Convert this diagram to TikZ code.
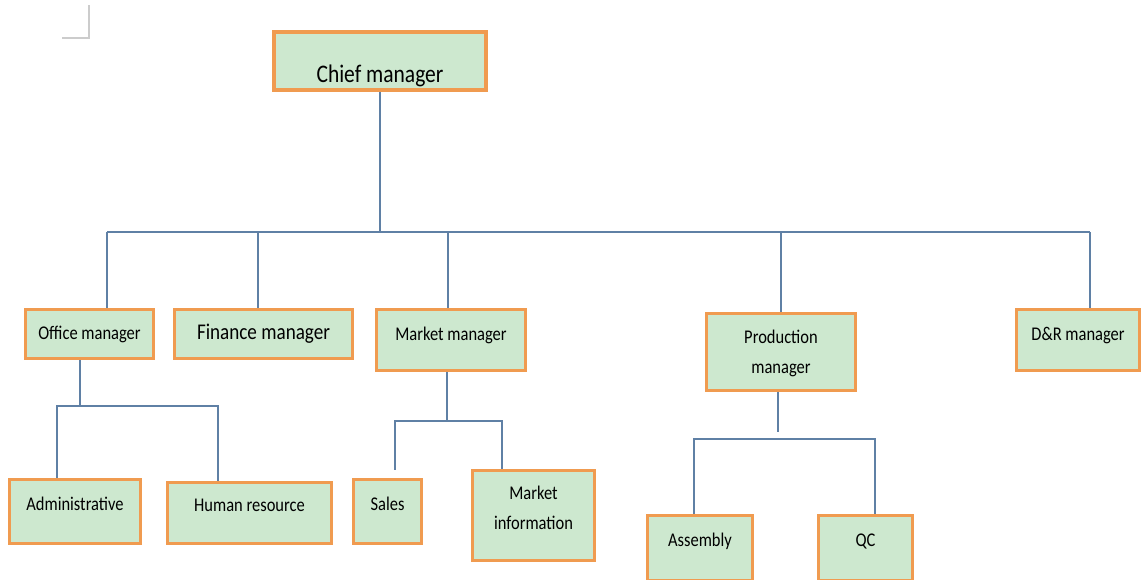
\documentclass[tikz,border=0pt]{standalone}
\usepackage{fontspec}
\newfontfamily\boxfont[FakeStretch=0.85]{Carlito}
\definecolor{boxfill}{RGB}{205,232,207}
\definecolor{boxedge}{RGB}{240,155,80}
\definecolor{linkblue}{RGB}{95,128,165}
\begin{document}
\begin{tikzpicture}[
        font=\boxfont\fontsize{13.8}{21}\selectfont
    ]
    \tikzset{
        orgbox/.style = {rectangle, draw=boxedge, line width=2.5pt, fill=boxfill, align=center},
        orgline/.style = {draw=linkblue, line width=1pt},
    }
    \useasboundingbox (0,0) rectangle (28.55,-14.5);
    \draw[gray!40, line width=0.8pt] (1.55,-0.95) -- (2.225,-0.95) -- (2.225,-0.125);
    % boxes
    \node[orgbox, minimum width=5.3cm, minimum height=1.45cm, inner ysep=0pt, text height=33pt, text depth=3pt,
          font=\boxfont\fontsize{18}{22}\selectfont] (chief) at (9.5,-1.525) {Chief manager};
    \node[orgbox, minimum width=3.2cm, minimum height=1.22cm] (office) at (2.2375,-8.35) {Office manager};
    \node[orgbox, minimum width=4.45cm, minimum height=1.22cm,
          font=\boxfont\fontsize{16}{20}\selectfont] (finance) at (6.5875,-8.35) {Finance manager};
    \node[orgbox, minimum width=3.72cm, minimum height=1.52cm, text height=10pt, text depth=10pt] (market) at (11.275,-8.5) {Market manager};
    \node[orgbox, minimum width=3.72cm, minimum height=1.92cm, text height=32pt, text depth=2pt] (production) at (19.525,-8.8) {Production\\manager};
    \node[orgbox, minimum width=3.07cm, minimum height=1.52cm, text height=10pt, text depth=10pt] (dr) at (26.95,-8.5) {D\&R manager};
    \node[orgbox, minimum width=3.27cm, minimum height=1.6cm, text height=10pt, text depth=10.8pt] (admin) at (1.875,-12.7875) {Administrative};
    \node[orgbox, minimum width=4.1cm, minimum height=1.52cm, text height=10pt, text depth=12pt] (hr) at (6.2375,-12.825) {Human resource};
    \node[orgbox, minimum width=1.7cm, minimum height=1.6cm, text height=10pt, text depth=10.8pt] (sales) at (9.6875,-12.7875) {Sales};
    \node[orgbox, minimum width=3.05cm, minimum height=2.25cm, text height=31pt, text depth=11.5pt] (minfo) at (13.3375,-12.8875) {Market\\information};
    \node[orgbox, minimum width=2.62cm, minimum height=1.62cm, text height=10pt, text depth=12pt] (assembly) at (17.5,-13.7) {Assembly};
    \node[orgbox, minimum width=2.35cm, minimum height=1.62cm, text height=10pt, text depth=12pt] (qc) at (21.6375,-13.7) {QC};
    % top level
    \coordinate (busL) at (2.675,-5.8);
    \coordinate (busR) at (27.25,-5.8);
    \draw[orgline] (chief.south) -- (chief.south |- busL);
    \draw[orgline] (busL) -- (busR);
    \foreach \x/\n in {2.675/office, 6.45/finance, 11.2/market, 19.525/production, 27.25/dr}
        \draw[orgline] (\x,-5.8) -- (\x,-5.8 |- \n.north);
    % office
    \coordinate (offjoin) at (2.0,-10.15);
    \coordinate (offL) at (1.425,-10.15);
    \coordinate (offR) at (5.45,-10.15);
    \draw[orgline] (office.south -| offjoin) -- (offjoin);
    \draw[orgline] (admin.north -| offL) -- (offL) -- (offR) -- (offR |- hr.north);
    % market
    \coordinate (mktjoin) at (11.175,-10.525);
    \coordinate (mktL) at (9.875,-10.525);
    \coordinate (mktR) at (12.55,-10.525);
    \draw[orgline] (market.south -| mktjoin) -- (mktjoin);
    \draw[orgline, shorten <=0.2cm] (sales.north -| mktL) -- (mktL) -- (mktR) -- (mktR |- minfo.north);
    % production
    \coordinate (prodjoin) at (19.45,-10.975);
    \coordinate (prodL) at (17.35,-10.975);
    \coordinate (prodR) at (21.875,-10.975);
    \draw[orgline, shorten >=0.175cm] (production.south -| prodjoin) -- (prodjoin);
    \draw[orgline] (assembly.north -| prodL) -- (prodL) -- (prodR) -- (prodR |- qc.north);
\end{tikzpicture}
\end{document}
